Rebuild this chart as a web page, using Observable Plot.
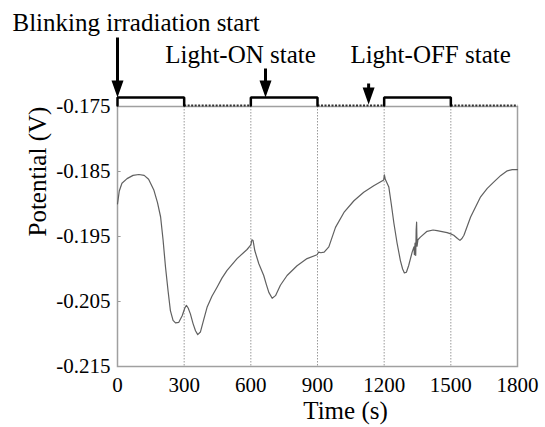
<!DOCTYPE html>
<html>
<head>
<meta charset="utf-8">
<script src="https://cdn.jsdelivr.net/npm/d3@7"></script>
<script src="https://cdn.jsdelivr.net/npm/@observablehq/plot@0.6"></script>
<style>
  html, body { margin: 0; padding: 0; background: #fff; }
  svg { display: block; }
  svg, svg text, svg tspan { font-family: "Liberation Serif", "Times New Roman", serif !important; }
</style>
</head>
<body>
<div id="chart"></div>
<script>
// ---- data ----
const times = [0, 8, 20, 43, 70, 96, 120, 140, 164, 180, 194, 205, 216, 228, 238, 250, 261, 276, 291, 303, 310, 318, 328, 340, 351, 361, 373, 388, 403, 425, 448, 470, 493, 538, 583, 600, 605, 610, 618, 636, 658, 670, 681, 696, 711, 733, 763, 808, 853, 898, 905, 915, 930, 951, 981, 1019, 1064, 1108, 1153, 1198, 1201, 1205, 1221, 1232, 1244, 1258, 1273, 1283, 1291, 1300, 1310, 1326, 1334, 1336, 1339, 1342, 1344, 1346, 1348, 1352, 1363, 1393, 1420, 1438, 1483, 1500, 1513, 1530, 1541, 1550, 1559, 1589, 1634, 1664, 1694, 1725, 1754, 1776, 1800];
const potential = [-0.1900, -0.1880, -0.1868, -0.1861, -0.1856, -0.18546, -0.1856, -0.1862, -0.1879, -0.1898, -0.1920, -0.1955, -0.1997, -0.2035, -0.2064, -0.2079, -0.2083, -0.2082, -0.2072, -0.2060, -0.2056, -0.2060, -0.2069, -0.2084, -0.2095, -0.2101, -0.2097, -0.2078, -0.2059, -0.2042, -0.2028, -0.2014, -0.2002, -0.1984, -0.1970, -0.1963, -0.1955, -0.1956, -0.1972, -0.1992, -0.2010, -0.2024, -0.2036, -0.2045, -0.2041, -0.2025, -0.2010, -0.1995, -0.1984, -0.1978, -0.1974, -0.1975, -0.1974, -0.1966, -0.1936, -0.1913, -0.1895, -0.1882, -0.1872, -0.1863, -0.1855, -0.1862, -0.1874, -0.1900, -0.1930, -0.1960, -0.1987, -0.2000, -0.2006, -0.2005, -0.1995, -0.1974, -0.1966, -0.1978, -0.1960, -0.1979, -0.1940, -0.1928, -0.1965, -0.1955, -0.1951, -0.1942, -0.1940, -0.1941, -0.1944, -0.1946, -0.1948, -0.1953, -0.1956, -0.1953, -0.1948, -0.1920, -0.1889, -0.1876, -0.1866, -0.1856, -0.1849, -0.1847, -0.1847];

const stateStarts = [0, 300, 600, 900, 1200, 1500];
const stateEnds   = [300, 600, 900, 1200, 1500, 1800];
const stateOn     = [true, false, true, false, true, false];

const gridTimes = [300, 600, 900, 1200, 1500];
const xTicks = [0, 300, 600, 900, 1200, 1500, 1800];
const yTicks = [-0.175, -0.185, -0.195, -0.205, -0.215];

const arrowTimes  = [0, 666, 1130];
const arrowLabels = ["Blinking irradiation start", "Light-ON state", "Light-OFF state"];

// ---- build tables ----
const series = times.map((t, i) => ({t, v: potential[i]}));

const HIGH = -0.17362, LOW = -0.17485;
const onPath = [], offSegs = [];
stateStarts.forEach((s, i) => {
  const e = stateEnds[i];
  if (stateOn[i]) {
    onPath.push({seg: i, t: s, v: LOW}, {seg: i, t: s, v: HIGH}, {seg: i, t: e, v: HIGH}, {seg: i, t: e, v: LOW});
  } else {
    offSegs.push({t1: s, t2: e});
  }
});

// pixel helper for annotation placement (frame top = -0.175 at 106px, 260px per 0.04 V)
const pxV = px => -0.175 + (106 - px) * 0.04 / 260;
const arrowGeom = [
  {tip: pxV(97), tail: pxV(37)},
  {tip: pxV(97), tail: pxV(68)},
  {tip: pxV(104), tail: pxV(83)}
];
const arrows = arrowTimes.map((t, i) => ({t, label: arrowLabels[i], ...arrowGeom[i]}));

const downTri = {
  draw(ctx) {
    ctx.moveTo(-6, -17);
    ctx.lineTo(6, -17);
    ctx.lineTo(0, 0);
    ctx.closePath();
  }
};

const serif = "Liberation Serif";
const labelSize = 25;

function arrowText(i, dx, baseline, anchor) {
  return Plot.text([arrows[i]], {
    x: "t", y: () => -0.175, text: "label",
    dx, dy: baseline - 106, textAnchor: anchor, lineAnchor: "bottom",
    fontSize: labelSize, fontFamily: serif, fill: "#000"
  });
}

const chart = Plot.plot({
  width: 545,
  height: 427,
  marginTop: 106,
  marginBottom: 61,
  marginLeft: 117,
  marginRight: 28,
  style: {fontFamily: serif, fontSize: "21px", background: "#fff", overflow: "visible", color: "#000"},
  x: {domain: [0, 1800]},
  y: {domain: [-0.215, -0.175]},
  marks: [
    Plot.ruleX(gridTimes, {stroke: "#999", strokeWidth: 1, strokeDasharray: "1.5,1.5"}),
    Plot.link(yTicks.slice(1, -1), {x1: () => 0, x2: () => 14, y1: d => d, y2: d => d, stroke: "#999", strokeWidth: 1}),
    Plot.frame({stroke: "#a0a0a0", strokeWidth: 1.5}),
    Plot.line(series, {x: "t", y: "v", stroke: "#606060", strokeWidth: 1.2}),
    Plot.axisX(xTicks, {tickSize: 0, tickPadding: 11, fontSize: 21, fontFamily: serif, tickFormat: d => String(d), label: null}),
    Plot.axisY(yTicks, {tickSize: 0, tickPadding: 7, fontSize: 21, fontFamily: serif, tickFormat: d => d.toFixed(3), label: null}),
    Plot.text(["Time (s)"], {frameAnchor: "bottom", dx: 28, dy: 52, fontSize: labelSize, fontFamily: serif}),
    Plot.text(["Potential (V)"], {frameAnchor: "left", dx: -80, rotate: -90, fontSize: labelSize, fontFamily: serif}),
    // state bar
    Plot.link(offSegs, {x1: "t1", x2: "t2", y1: () => LOW, y2: () => LOW, stroke: "#333", strokeWidth: 2, strokeDasharray: "2,1.5"}),
    Plot.line(onPath, {x: "t", y: "v", z: "seg", stroke: "#000", strokeWidth: 2.5, strokeLinejoin: "miter"}),
    // arrows
    Plot.link(arrows, {x1: "t", x2: "t", y1: "tail", y2: d => d.tip + 0.0015, stroke: "#000", strokeWidth: 3}),
    Plot.dot(arrows, {x: "t", y: "tip", symbol: downTri, fill: "#000", stroke: null}),
    arrowText(0, -105, 30, "start"),
    arrowText(1, -25, 62, "middle"),
    arrowText(2, 62, 62, "middle")
  ]
});
document.getElementById("chart").appendChild(chart);
</script>
</body>
</html>
